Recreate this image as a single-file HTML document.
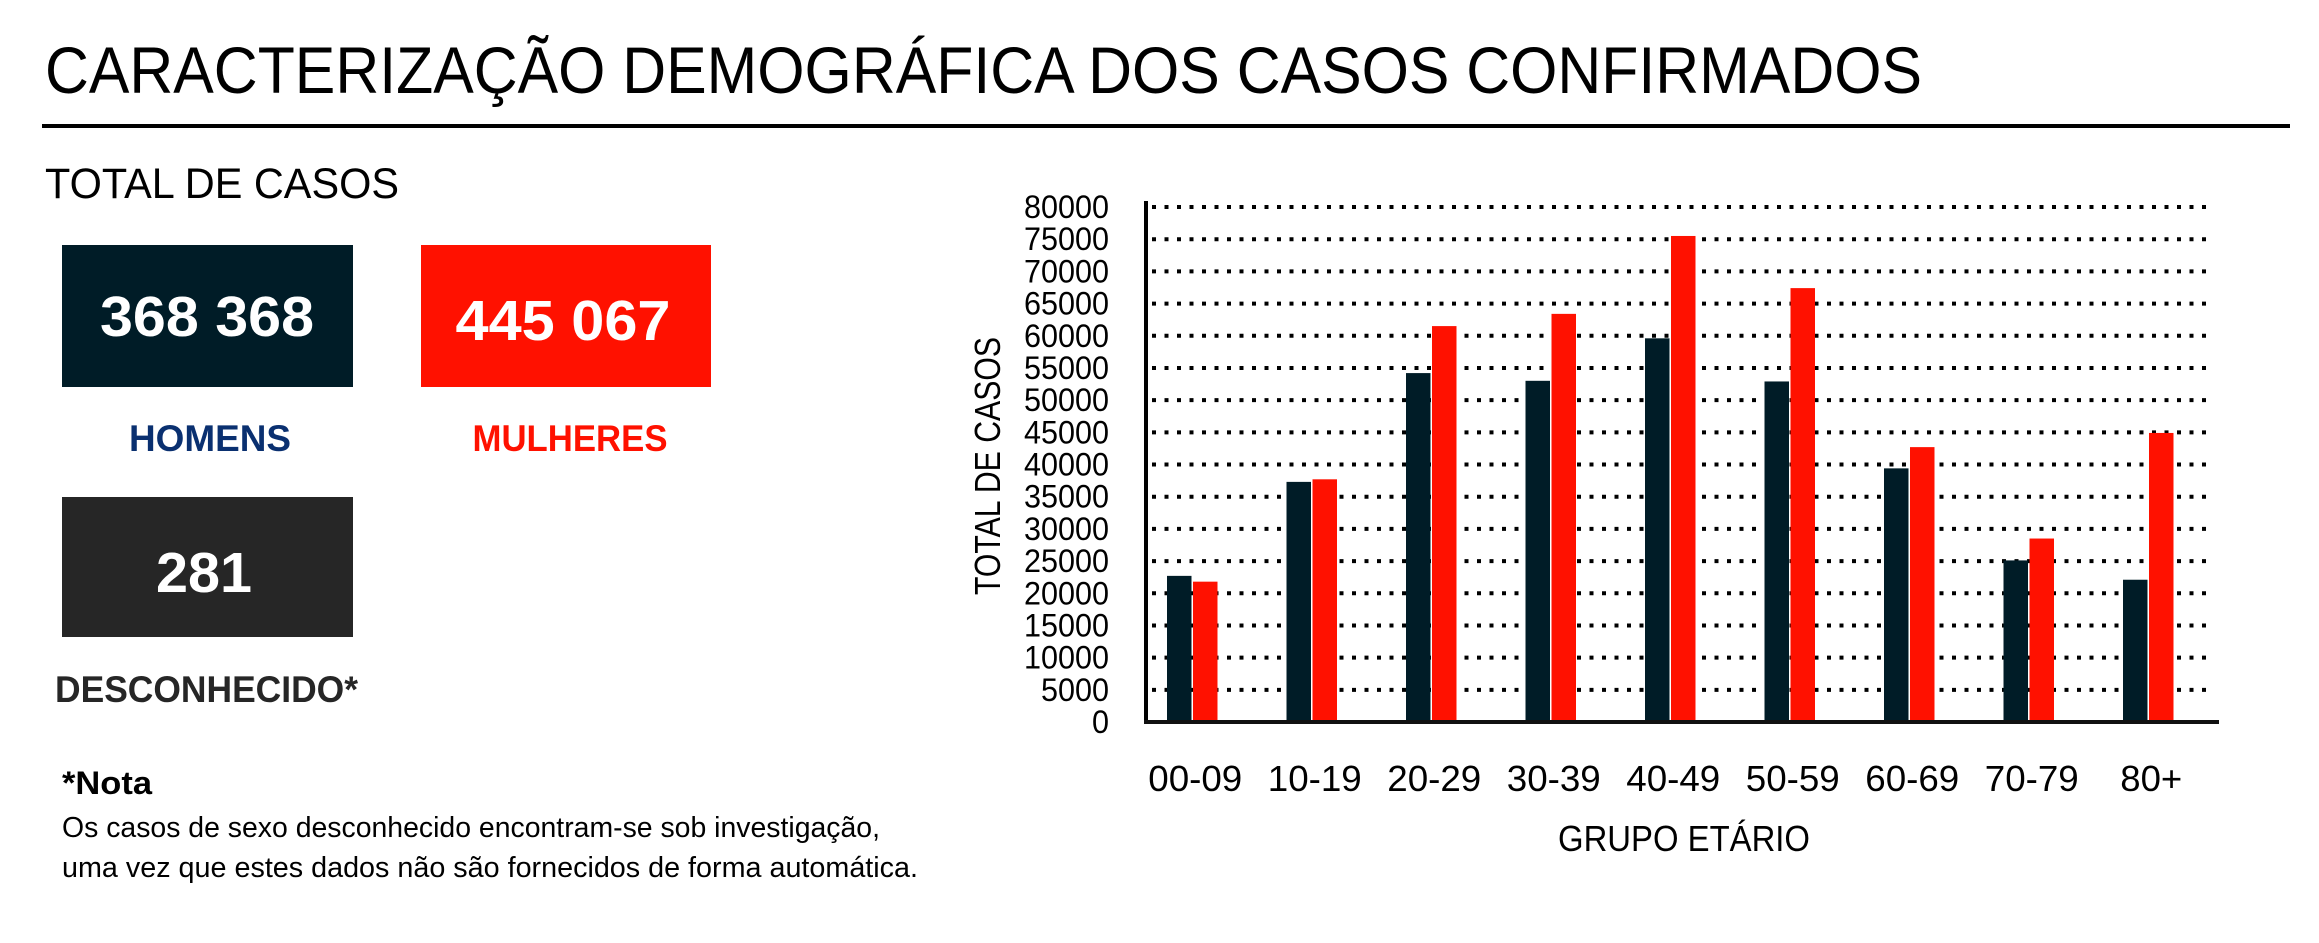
<!DOCTYPE html>
<html><head><meta charset="utf-8"><style>
html,body{margin:0;padding:0;background:#fff;}
svg{display:block;}
text{font-family:"Liberation Sans",sans-serif;}
</style></head><body>
<svg id="root" width="2319" height="943" viewBox="0 0 2319 943" xmlns="http://www.w3.org/2000/svg">
<text x="45" y="93" font-size="66" textLength="1877" lengthAdjust="spacingAndGlyphs">CARACTERIZAÇÃO DEMOGRÁFICA DOS CASOS CONFIRMADOS</text>
<rect x="42" y="124" width="2248" height="4" fill="#000"/>
<text x="45" y="198" font-size="43" textLength="354" lengthAdjust="spacingAndGlyphs">TOTAL DE CASOS</text>
<rect x="62" y="245" width="291" height="142" fill="#001c27"/>
<text x="207" y="336" font-size="57" font-weight="bold" fill="#fff" text-anchor="middle" textLength="214" lengthAdjust="spacingAndGlyphs">368 368</text>
<text x="210" y="451" font-size="37" font-weight="bold" fill="#0a3070" text-anchor="middle" textLength="162" lengthAdjust="spacingAndGlyphs">HOMENS</text>
<rect x="421" y="245" width="290" height="142" fill="#ff1100"/>
<text x="563" y="340" font-size="57" font-weight="bold" fill="#fff" text-anchor="middle" textLength="215" lengthAdjust="spacingAndGlyphs">445 067</text>
<text x="570" y="451" font-size="37" font-weight="bold" fill="#ff1100" text-anchor="middle" textLength="195" lengthAdjust="spacingAndGlyphs">MULHERES</text>
<rect x="62" y="497" width="291" height="140" fill="#262626"/>
<text x="204" y="592" font-size="57" font-weight="bold" fill="#fff" text-anchor="middle" textLength="96" lengthAdjust="spacingAndGlyphs">281</text>
<text x="55" y="702" font-size="37" font-weight="bold" fill="#262626" textLength="303" lengthAdjust="spacingAndGlyphs">DESCONHECIDO*</text>
<text x="62" y="794" font-size="32" font-weight="bold" textLength="90" lengthAdjust="spacingAndGlyphs">*Nota</text>
<text x="62" y="837" font-size="29" textLength="818" lengthAdjust="spacingAndGlyphs">Os casos de sexo desconhecido encontram-se sob investigação,</text>
<text x="62" y="877" font-size="29" textLength="856" lengthAdjust="spacingAndGlyphs">uma vez que estes dados não são fornecidos de forma automática.</text>
<g id="chart"></g>
</svg>
<script>
const categories=["00-09","10-19","20-29","30-39","40-49","50-59","60-69","70-79","80+"];
const menValues=[22700,37300,54200,53000,59600,52900,39400,25100,22100];
const womenValues=[21800,37700,61500,63400,75500,67400,42700,28500,44900];
const yTicks=[0,5000,10000,15000,20000,25000,30000,35000,40000,45000,50000,55000,60000,65000,70000,75000,80000];
const NS="http://www.w3.org/2000/svg";
const g=document.getElementById('chart');
const x0=1146,x1=2219,yBase=722,yTop=207,yMax=80000;
const groupStart=1167,groupStep=119.5,barW=24.5,gap=1.5;
function y(v){return yBase-(v/yMax)*(yBase-yTop);}
function gx(i){return groupStart+i*groupStep;}
function mk(tag,attrs){const e=document.createElementNS(NS,tag);for(const k in attrs)e.setAttribute(k,attrs[k]);g.appendChild(e);return e;}
yTicks.forEach(t=>{
  if(t>0){const l=mk('line',{x1:x0+6,x2:2212,y1:y(t),y2:y(t),stroke:'#000','stroke-width':4,'stroke-dasharray':'4 8.5'});
  
  }
  const tx=mk('text',{x:1109,y:y(t)+11,'font-size':32,'text-anchor':'end',textLength:String(t).length*17,lengthAdjust:'spacingAndGlyphs'});
  tx.textContent=t;
  
  
});
categories.forEach((c,i)=>{
  const b1=mk('rect',{x:gx(i),y:y(menValues[i]),width:barW,height:yBase-y(menValues[i]),fill:'#001c27'});
  
  
  const b2=mk('rect',{x:gx(i)+barW+gap,y:y(womenValues[i]),width:barW,height:yBase-y(womenValues[i]),fill:'#ff1100'});
  
  
  const t=mk('text',{x:gx(i)+barW+gap/2+3,y:791,'font-size':36,'text-anchor':'middle',textLength:c.length>3?94:62,lengthAdjust:'spacingAndGlyphs'});
  t.textContent=c;
  
  
});
const ax=mk('line',{x1:x0,x2:x0,y1:yTop-6,y2:yBase+2,stroke:'#000','stroke-width':4});


const bx=mk('line',{x1:x0-2,x2:x1,y1:yBase,y2:yBase,stroke:'#111','stroke-width':4});


const xt=mk('text',{x:1684,y:851,'font-size':36,'text-anchor':'middle',textLength:252,lengthAdjust:'spacingAndGlyphs'});
xt.textContent='GRUPO ETÁRIO';


const yt=mk('text',{x:0,y:0,'font-size':36,'text-anchor':'middle',textLength:258,lengthAdjust:'spacingAndGlyphs',transform:'translate(1000,466) rotate(-90)'});
yt.textContent='TOTAL DE CASOS';


</script>
</body></html>
